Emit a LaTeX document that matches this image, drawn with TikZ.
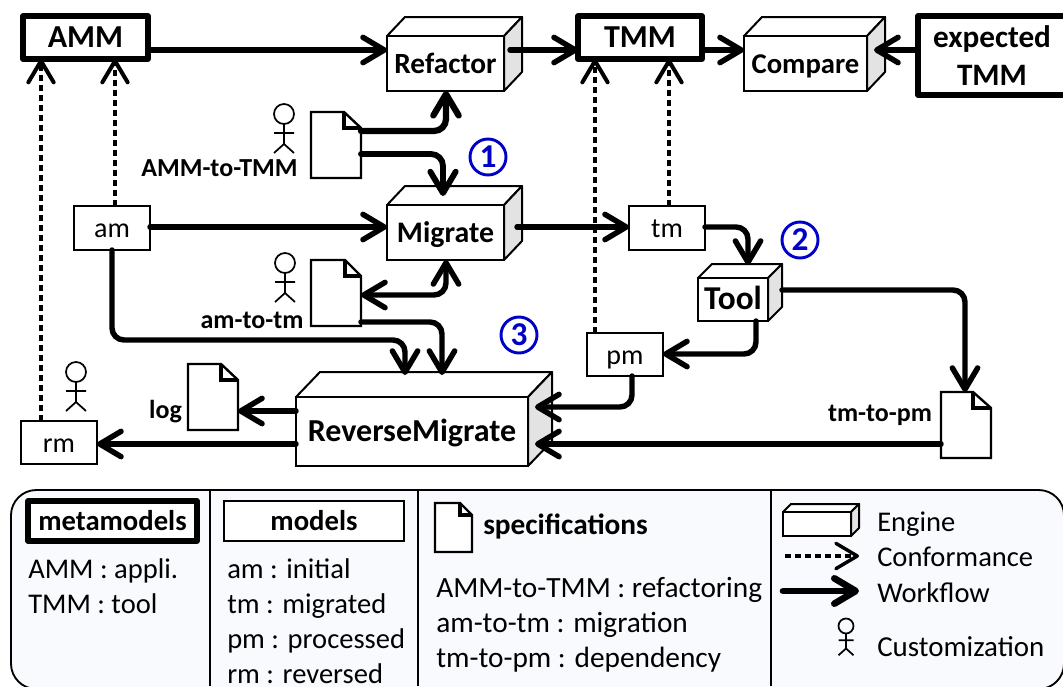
\documentclass[tikz,border=0pt]{standalone}
\usepackage{fontspec}
\setmainfont{Carlito}
\usetikzlibrary{arrows.meta,fit,calc}
\definecolor{panel}{HTML}{F9FAFD}
\definecolor{sideface}{HTML}{E3E3E3}
\definecolor{numblue}{HTML}{0000C8}
\newcommand\sz[1]{\fontsize{#1}{28}\selectfont}
\tikzset{
  boxbase/.style={rectangle,inner sep=0pt,outer sep=0pt},
  metabox/.style={boxbase,draw,line width=3.8pt,fill=white,line join=round},
  modelbox/.style={boxbase,draw,line width=1.8pt,fill=white},
  enginefront/.style={boxbase,draw,line width=1.5pt,fill=white},
  ghost/.style={rectangle,inner sep=0pt,outer sep=0pt},
  shell/.style={draw,line width=1.5pt,line join=round},
  docline/.style={draw,line width=1.8pt,fill=white,line join=miter},
  tip/.style={-{Straight Barb[length=16pt,width=19pt,round]}},
  flow/.style={line width=4.1pt,rounded corners=9pt,line cap=round,tip},
  conf/.style={line width=3pt,dash pattern=on 4.2pt off 3.3pt,tip},
  boldtext/.style={font=\fontsize{21.5}{28}\selectfont\bfseries,inner sep=0pt,anchor=base},
  plaintext/.style={font=\fontsize{21}{28}\selectfont,inner sep=0pt,anchor=base},
  lab/.style={font=\fontsize{19.5}{22}\selectfont\bfseries,inner sep=0pt},
  txt/.style={font=\fontsize{21.4}{24}\selectfont,inner sep=0pt,anchor=base west},
  spectxt/.style={txt,font=\fontsize{22}{24}\selectfont},
  num/.style={circle,draw=numblue,text=numblue,line width=2.2pt,minimum size=27pt,inner sep=0pt,font=\fontsize{25}{26}\selectfont\bfseries},
  actorline/.style={line width=1.3pt},
}
% name x0 y0 x1 y1 box-style text-style text
\newcommand\boxat[8]{%
  \node[#6,fit={(#2,#3)(#4,#5)}] (#1) {};
  \node[#7] (#1-text) at ($(#1.center)+(0,9.5)$) {#8};}
% name x0 y0 x1 y1 dx dy text
\newcommand\engine[8]{%
  \filldraw[shell,fill=white] (#2,#3) -- ++(#6,-#7) -- ++(#4-#2,0) -- ++(-#6,#7) -- cycle;
  \filldraw[shell,fill=sideface] (#4,#3) -- ++(#6,-#7) -- ++(0,#5-#3) -- ++(-#6,#7) -- cycle;
  \boxat{#1}{#2}{#3}{#4}{#5}{enginefront}{boldtext}{#8}}
% name x0 y0 x1 y1 foldx foldy
\newcommand\docicon[7]{%
  \node[ghost,fit={(#2,#3)(#4,#5)}] (#1) {};
  \path[docline] (#2,#3) -- (#6,#3) -- (#4,#7) -- (#4,#5) -- (#2,#5) -- cycle;
  \draw[line width=2.4pt,line join=miter] (#6,#3) -- (#6,#7) -- (#4,#7);}
% x y (head centre) r
\newcommand\actorfig[3]{%
  \begin{scope}[shift={(#1,#2)},scale=#3/10]
    \draw[actorline] (0,0) circle [radius=10];
    \draw[actorline] (0,10) -- (0,30) (-10,19) -- (10,19) (-10,39) -- (0,30) -- (10,39);
  \end{scope}}
\begin{document}
\begin{tikzpicture}[x=0.75pt,y=-0.75pt]
\useasboundingbox (0,0) rectangle (1063,686);
\clip (0,0) rectangle (1063,686);
% legend panel
\draw[line width=1.4pt,fill=panel,rounded corners=19pt] (11,490) rectangle (1064,689);
\draw[line width=1.4pt] (210,490) -- (210,686) (418,490) -- (418,686) (771,490) -- (771,686);
\boxat{legmeta}{28}{501}{197}{541}{metabox}{boldtext}{metamodels}
\boxat{legmodel}{224}{501}{404}{541}{modelbox}{boldtext}{models}
\docicon{legdoc}{435}{503}{472}{552}{460}{515}
\node[txt,font=\fontsize{22}{24}\selectfont\bfseries] (legspec) at (483,534) {specifications};
\node[txt] (t1) at (28,578) {AMM : appli.};
\node[txt] (t2) at (28,613) {TMM : tool};
\node[txt] (t3) at (227,578) {am : initial};
\node[txt] (t4) at (227,613) {tm : migrated};
\node[txt] (t5) at (227,648) {pm : processed};
\node[txt] (t6) at (227,683) {rm : reversed};
\node[spectxt] (t7) at (436,597) {AMM-to-TMM : refactoring};
\node[spectxt] (t8) at (436,632) {am-to-tm : migration};
\node[spectxt] (t9) at (436,667) {tm-to-pm : dependency};
\engine{legeng}{783}{512}{851}{536}{8}{8}{}
\node[txt] (t10) at (877,531) {Engine};
\node[txt] (t11) at (877,566) {Conformance};
\node[txt] (t12) at (877,602) {Workflow};
\node[txt,font=\fontsize{21.7}{24}\selectfont] (t13) at (877,656) {Customization};
\coordinate (c1) at (785,556); \coordinate (c2) at (859,556);
\coordinate (w1) at (783,591); \coordinate (w2) at (859,591);
\draw[conf,line width=2.6pt] (c1) -- (c2);
\draw[flow,line width=5pt] (w1) -- (w2);
\actorfig{846}{626}{7.5}
% main boxes
\boxat{amm}{23}{16}{148}{59}{metabox}{boldtext}{\sz{24}AMM}
\boxat{tmm}{578}{16}{702}{59}{metabox}{boldtext}{\sz{24}TMM}
\node[metabox,fit={(918,16)(1066,95)}] (exp) {};
\node[boldtext,anchor=center,align=center,font=\fontsize{23.4}{28.5}\selectfont\bfseries] (exp-text) at (exp.center) {expected\\TMM};
\boxat{am}{74}{206}{150}{250}{modelbox}{plaintext}{am}
\boxat{tm}{629}{206}{705}{250}{modelbox}{plaintext}{tm}
\boxat{pm}{587}{333}{663}{376}{modelbox}{plaintext}{pm}
\boxat{rm}{21}{421}{97}{464}{modelbox}{plaintext}{rm}
\engine{refactor}{387}{36}{504}{91}{18}{19}{\sz{22}Refactor}
\engine{compare}{744}{36}{867}{91}{18}{19}{Compare}
\engine{migrate}{387}{205}{504}{260}{18}{19}{\sz{22.4}Migrate}
\engine{tool}{698}{278}{768}{321}{14}{14}{\sz{25}Tool}
\engine{revmig}{296}{397}{528}{466}{24}{25}{\sz{24}ReverseMigrate}
\docicon{docA}{311}{112}{361}{178}{344}{128}
\docicon{docB}{311}{260}{361}{326}{345}{276}
\docicon{docL}{188}{364}{238}{430}{221}{380}
\docicon{docT}{941}{392}{991}{458}{973}{408}
\actorfig{284}{114}{10}
\actorfig{285}{263}{10}
\actorfig{76}{372}{10}
% labels
\node[lab] (lA) at (219.5,168) {AMM-to-TMM};
\node[lab] (lB) at (252,320) {am-to-tm};
\node[lab] (lL) at (165.5,412) {log};
\node[lab] (lT) at (880,415) {tm-to-pm};
\node[num] (n1) at (488,157) {1};
\node[num] (n2) at (800,240) {2};
\node[num] (n3) at (519,335) {3};
% conformance
\draw[conf] (rm.north -| 41,0) -- (amm.south -| 41,0);
\draw[conf] (am.north -| 115,0) -- (amm.south -| 115,0);
\draw[conf] (pm.north -| 595,0) -- (tmm.south -| 595,0);
\draw[conf] (tm.north -| 669,0) -- (tmm.south -| 669,0);
% workflow
\draw[flow] (amm.east |- 0,50) -- (refactor.west |- 0,50);
\draw[flow] ($(refactor.east |- 0,50)+(6,0)$) -- (tmm.west |- 0,50);
\draw[flow] (tmm.east |- 0,50) -- (compare.west |- 0,50);
\draw[flow] (exp.west |- 0,50) -- ($(compare.east |- 0,50)+(7,0)$);
\draw[flow,line width=4.7pt] (docA.east |- 0,131) -- (446,131) -- (refactor.south -| 446,0);
\draw[flow,line width=4.4pt] (docA.east |- 0,154) -- (443,154) -- ($(migrate.north -| 443,0)+(0,-9)$);
\draw[flow] (am.east |- 0,227) -- (migrate.west |- 0,227);
\draw[flow] ($(migrate.east |- 0,227)+(13,0)$) -- (tm.west |- 0,227);
\draw[flow,{Straight Barb[length=16pt,width=19pt,round]}-{Straight Barb[length=16pt,width=19pt,round]}] (docB.east |- 0,295) -- (446,295) -- (migrate.south -| 446,0);
\draw[flow] (am.south -| 112,0) -- (112,340) -- (405,340) -- ($(revmig.north -| 405,0)+(0,-22)$);
\draw[flow] (docB.east |- 0,322) -- (442,322) -- ($(revmig.north -| 442,0)+(0,-22)$);
\draw[flow] (tm.east |- 0,227) -- (748,227) -- ($(tool.north -| 748,0)+(0,-13)$);
\draw[flow] ($(tool.east |- 0,290)+(14,0)$) -- (965,290) -- (docT.north -| 965,0);
\draw[flow] (tool.south -| 756,0) -- (756,354) -- (pm.east |- 0,354);
\draw[flow] (pm.south -| 632,0) -- (632,407) -- ($(revmig.east |- 0,407)+(7,0)$);
\draw[flow] (docT.west |- 0,444) -- ($(revmig.east |- 0,444)+(7,0)$);
\draw[flow] (revmig.west |- 0,411) -- (docL.east |- 0,411);
\draw[flow] (revmig.west |- 0,444) -- (rm.east |- 0,444);
\end{tikzpicture}
\end{document}
